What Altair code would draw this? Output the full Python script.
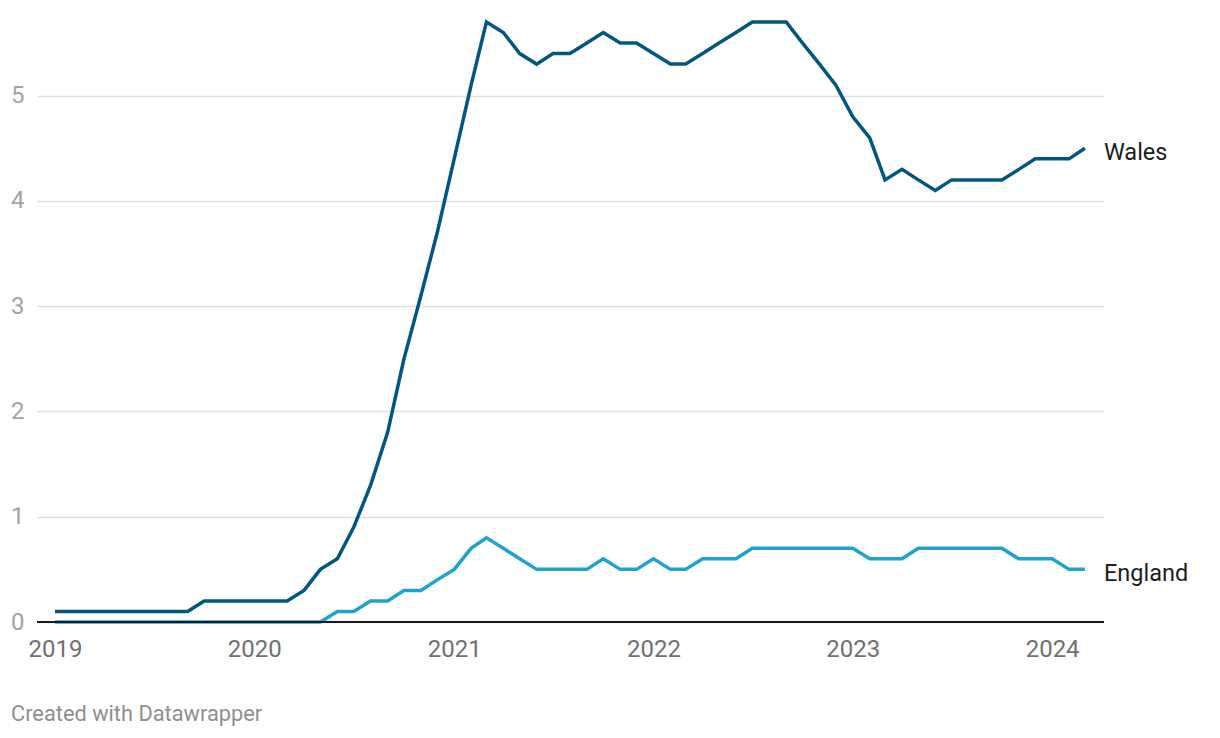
import altair as alt
import pandas as pd

# Monthly values, Jan 2019 .. Mar 2024
months = pd.date_range("2019-01-01", "2024-03-01", freq="MS").strftime("%Y-%m-%d").tolist()

wales = [
    0.1, 0.1, 0.1, 0.1, 0.1, 0.1, 0.1, 0.1, 0.1, 0.2, 0.2, 0.2,   # 2019
    0.2, 0.2, 0.2, 0.3, 0.5, 0.6, 0.9, 1.3, 1.8, 2.5, 3.1, 3.7,   # 2020
    4.4, 5.1, 5.7, 5.6, 5.4, 5.3, 5.4, 5.4, 5.5, 5.6, 5.5, 5.5,   # 2021
    5.4, 5.3, 5.3, 5.4, 5.5, 5.6, 5.7, 5.7, 5.7, 5.5, 5.3, 5.1,   # 2022
    4.8, 4.6, 4.2, 4.3, 4.2, 4.1, 4.2, 4.2, 4.2, 4.2, 4.3, 4.4,   # 2023
    4.4, 4.4, 4.5,                                                # 2024
]
england = [
    0.0, 0.0, 0.0, 0.0, 0.0, 0.0, 0.0, 0.0, 0.0, 0.0, 0.0, 0.0,   # 2019
    0.0, 0.0, 0.0, 0.0, 0.0, 0.1, 0.1, 0.2, 0.2, 0.3, 0.3, 0.4,   # 2020
    0.5, 0.7, 0.8, 0.7, 0.6, 0.5, 0.5, 0.5, 0.5, 0.6, 0.5, 0.5,   # 2021
    0.6, 0.5, 0.5, 0.6, 0.6, 0.6, 0.7, 0.7, 0.7, 0.7, 0.7, 0.7,   # 2022
    0.7, 0.6, 0.6, 0.6, 0.7, 0.7, 0.7, 0.7, 0.7, 0.7, 0.6, 0.6,   # 2023
    0.6, 0.5, 0.5,                                                # 2024
]
series_names = ["Wales", "England"]
series_colors = ["#03577f", "#1ea3cf"]
year_ticks = [2019, 2020, 2021, 2022, 2023, 2024]
y_ticks = [0, 1, 2, 3, 4, 5]
credit = "Created with Datawrapper"

df = pd.DataFrame(
    {
        "date": months * 2,
        "value": wales + england,
        "series": ["Wales"] * len(months) + ["England"] * len(months),
    }
)
last = df[df["date"] == months[-1]].copy()
base_df = pd.DataFrame({"value": [0]})

FONT = "Roboto"
Y_SCALE = alt.Scale(domain=[0, 5.7], nice=False, zero=True)
X_SCALE = alt.Scale(
    type="utc",
    domain=[
        alt.DateTime(year=2018, month=11, date=29, utc=True),
        alt.DateTime(year=2024, month=4, date=5, utc=True),
    ],
)
X_AXIS = alt.Axis(
    values=[alt.DateTime(year=y, month=1, date=1, utc=True) for y in year_ticks],
    format="%Y",
    formatType="utc",
    title=None,
    domain=False,
    ticks=False,
    grid=False,
    labelFont=FONT,
    labelFontSize=24,
    labelColor="#707070",
    labelPadding=15,
)
Y_AXIS = alt.Axis(
    values=y_ticks,
    format="d",
    title=None,
    domain=False,
    ticks=False,
    grid=True,
    gridColor="#e0e0e0",
    gridWidth=1.5,
    labelFont=FONT,
    labelFontSize=24,
    labelColor="#a3a3a3",
    labelPadding=13,
)

x_enc = alt.X("date:T", scale=X_SCALE, axis=X_AXIS)
y_enc = alt.Y("value:Q", scale=Y_SCALE, axis=Y_AXIS)
color_enc = alt.Color(
    "series:N",
    scale=alt.Scale(domain=series_names, range=series_colors),
    legend=None,
)

lines = alt.Chart(df).mark_line(strokeWidth=3.5, strokeJoin="miter", strokeCap="butt").encode(
    x=x_enc, y=y_enc, color=color_enc, detail="series:N"
)

baseline = alt.Chart(base_df).mark_rule(color="#1a1a1a", strokeWidth=2).encode(y=y_enc)

labels = alt.Chart(last).mark_text(
    align="left", baseline="middle", dx=19, dy=5, font=FONT, fontSize=23.5, color="#1d1d1d"
).encode(x=x_enc, y=y_enc, text="series:N")

credit_text = alt.Chart(pd.DataFrame({"t": [credit]})).mark_text(
    align="left", baseline="middle", font=FONT, fontSize=21.8, color="#8f8f8f"
).encode(x=alt.value(-26), y=alt.value(692), text="t:N")

chart = (
    alt.layer(lines, baseline, labels, credit_text)
    .properties(
        width=1067,
        height=600,
        autosize=alt.AutoSizeParams(type="none"),
        padding={"left": 29, "top": 14, "right": 100, "bottom": 115},
    )
    .configure(background="white")
    .configure_view(strokeWidth=0, stroke="transparent")
)

chart.save("out.html", embed_options={"renderer": "svg", "actions": False})
